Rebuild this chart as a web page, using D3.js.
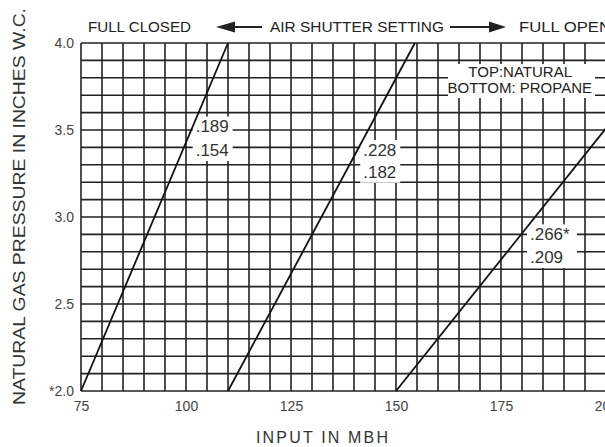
<!DOCTYPE html>
<html>
<head>
<meta charset="utf-8">
<script src="https://cdn.jsdelivr.net/npm/d3@7"></script>
<style>
  body { margin: 0; background: #fff; }
  text { font-family: "Liberation Sans", Arial, sans-serif; }
</style>
</head>
<body>
<div id="maincontainer"></div>
<script>
// values
const inputTicks = [75, 100, 125, 150, 175, 200];
const pressureTicks = [2.0, 2.5, 3.0, 3.5, 4.0];
const gridInputs = d3.range(75, 201, 5);
const gridPressures = d3.range(20, 41, 1).map(d => d / 10);

// orifice lines: [input MBH, pressure in. W.C.]
const orificeLines = [
  [[75, 2.0], [110, 4.0]],
  [[110, 2.0], [154.5, 4.0]],
  [[150, 2.0], [200, 3.51]]
];
// orifice sizes: top natural, bottom propane
const naturalSizes = [".189", ".228", ".266*"];
const propaneSizes = [".154", ".182", ".209"];
// where each pair of labels sits (input, natural pressure, propane pressure)
const labelInputs = [102.3, 142.2, 181.9];
const naturalLabelP = [3.52, 3.385, 2.90];
const propaneLabelP = [3.385, 3.26, 2.77];

let width = 605;
let height = 447;

let svg = d3.select("#maincontainer")
  .append("svg")
  .attr("width", width)
  .attr("height", height)
  .style("display", "block")
  .style("background", "#fff");

let x = d3.scaleLinear().domain([75, 200]).range([81, 606]);
let y = d3.scaleLinear().domain([2, 4]).range([391, 43]);

//////////////// grid ////////////////
let grid = svg.append("g").attr("stroke", "#222").attr("stroke-width", 1.6);

grid.selectAll("line.v")
  .data(gridInputs)
  .enter().append("line")
  .attr("class", "v")
  .attr("x1", d => x(d)).attr("x2", d => x(d))
  .attr("y1", y(4)).attr("y2", y(2));

grid.selectAll("line.h")
  .data(gridPressures)
  .enter().append("line")
  .attr("class", "h")
  .attr("x1", x(75)).attr("x2", width)
  .attr("y1", d => y(d)).attr("y2", d => y(d));

//////////////// axes ////////////////
let xAxis = svg.append("g")
  .attr("transform", `translate(0,${y(2)})`)
  .call(d3.axisBottom(x).tickValues(inputTicks).tickSize(0).tickPadding(10));
xAxis.select(".domain").remove();
xAxis.selectAll("text").attr("font-size", 14).attr("fill", "#444")
  .style("font-family", "'Liberation Sans', Arial, sans-serif");

let yAxis = svg.append("g")
  .attr("transform", `translate(${x(75)},0)`)
  .call(d3.axisLeft(y).tickValues(pressureTicks).tickSize(0).tickPadding(7)
    .tickFormat(d => d === 2 ? "*2.0" : d3.format(".1f")(d)));
yAxis.select(".domain").remove();
yAxis.selectAll("text").attr("font-size", 14).attr("fill", "#444")
  .style("font-family", "'Liberation Sans', Arial, sans-serif");

//////////////// orifice labels ////////////////
let labels = svg.append("g");
labelInputs.forEach((v, i) => {
  let lx = x(v);
  let top = y(naturalLabelP[i]);
  let bot = y(propaneLabelP[i]);
  labels.append("rect")
    .attr("x", lx - 3).attr("y", top - 10)
    .attr("width", naturalSizes[i].length > 4 ? 50 : 40)
    .attr("height", bot - top + 21)
    .attr("fill", "#fff");
  labels.append("text").attr("x", lx).attr("y", top).attr("dy", "0.35em")
    .attr("font-size", 17).attr("fill", "#333").text(naturalSizes[i]);
  labels.append("text").attr("x", lx).attr("y", bot).attr("dy", "0.35em")
    .attr("font-size", 17).attr("fill", "#333").text(propaneSizes[i]);
});

//////////////// lines ////////////////
let line = d3.line().x(d => x(d[0])).y(d => y(d[1]));
svg.append("g").selectAll("path")
  .data(orificeLines)
  .enter().append("path")
  .attr("d", line)
  .attr("fill", "none")
  .attr("stroke", "#111")
  .attr("stroke-width", 1.8);

//////////////// legend box ////////////////
svg.append("rect")
  .attr("x", 448).attr("y", 64).attr("width", 147).attr("height", 34)
  .attr("fill", "#fff");
svg.append("text").attr("x", 572).attr("y", 77).attr("text-anchor", "end")
  .attr("font-size", 15).attr("fill", "#222").text("TOP:NATURAL");
svg.append("text").attr("x", 592).attr("y", 93).attr("text-anchor", "end")
  .attr("font-size", 15).attr("fill", "#222").text("BOTTOM: PROPANE");

//////////////// titles ////////////////
let head = svg.append("g").attr("fill", "#222").attr("font-size", 15);
head.append("text").attr("x", 88).attr("y", 32)
  .attr("textLength", 103).attr("lengthAdjust", "spacingAndGlyphs").text("FULL CLOSED");
head.append("text").attr("x", 270).attr("y", 32)
  .attr("textLength", 174).attr("lengthAdjust", "spacingAndGlyphs").text("AIR SHUTTER SETTING");
head.append("text").attr("x", 519).attr("y", 32)
  .attr("textLength", 92).attr("lengthAdjust", "spacingAndGlyphs").text("FULL OPEN");

// arrows
head.append("line").attr("x1", 232).attr("x2", 262).attr("y1", 27).attr("y2", 27)
  .attr("stroke", "#222").attr("stroke-width", 2);
head.append("path").attr("d", "M216,27 L235,21.5 L235,32.5 Z");
head.append("line").attr("x1", 450).attr("x2", 492).attr("y1", 27).attr("y2", 27)
  .attr("stroke", "#222").attr("stroke-width", 2);
head.append("path").attr("d", "M506,27 L489,21.5 L489,32.5 Z");

svg.append("text")
  .attr("x", 322).attr("y", 443)
  .attr("text-anchor", "middle")
  .attr("font-size", 16).attr("fill", "#333")
  .attr("textLength", 132).attr("lengthAdjust", "spacing")
  .text("INPUT IN MBH");

svg.append("text")
  .attr("transform", "translate(25,405) rotate(-90)")
  .attr("font-size", 17).attr("fill", "#333")
  .attr("textLength", 397).attr("lengthAdjust", "spacingAndGlyphs")
  .text("NATURAL GAS PRESSURE IN INCHES W.C.");
</script>
</body>
</html>
